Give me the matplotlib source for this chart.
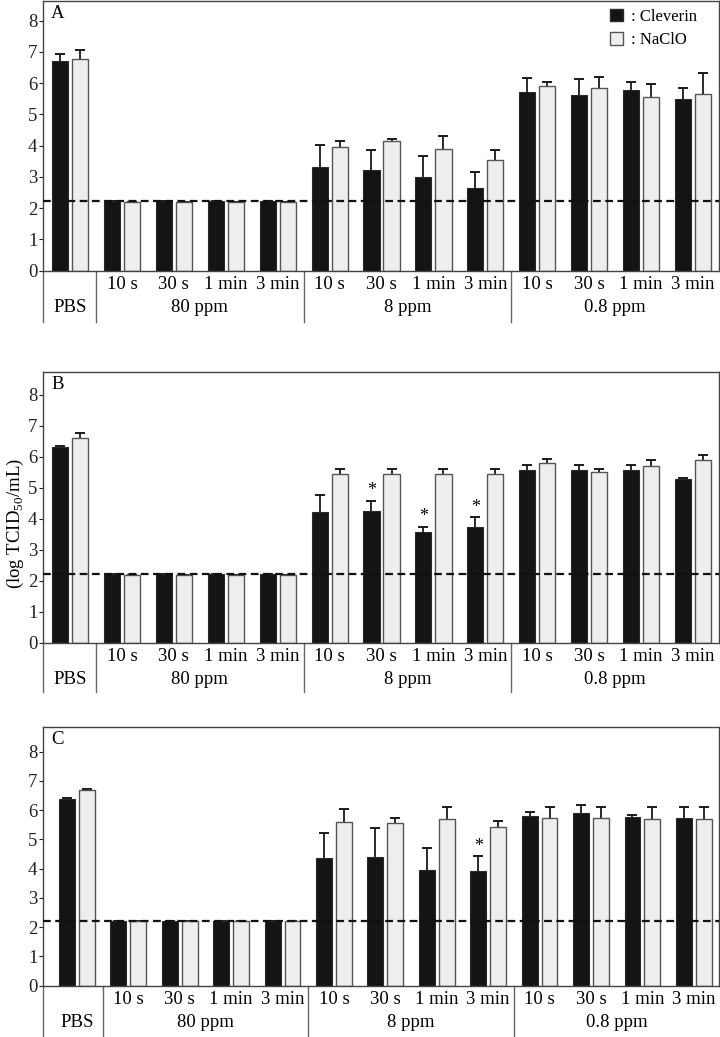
"""重绘三组 Cleverin / NaClO 灭活效果柱状图（A、B、C 三个面板）。"""
from __future__ import annotations

import matplotlib

matplotlib.use("Agg")
import matplotlib.pyplot as plt
import matplotlib.transforms as mtransforms
import numpy as np
from matplotlib.patches import Patch

# ---- 数据 ----
time_labels = ["", "10 s", "30 s", "1 min", "3 min",
               "10 s", "30 s", "1 min", "3 min",
               "10 s", "30 s", "1 min", "3 min"]
group_labels = ["PBS", "80 ppm", "8 ppm", "0.8 ppm"]
group_centers = [0, 2.5, 6.5, 10.5]
group_dividers = [0.5, 4.5, 8.5]
detection_limit = 2.22

a_cleverin = [6.71, 2.22, 2.22, 2.22, 2.22, 3.32, 3.21, 3.01, 2.64, 5.71, 5.63, 5.77, 5.50]
a_cleverin_err = [0.22, 0.0, 0.0, 0.0, 0.0, 0.70, 0.64, 0.66, 0.52, 0.45, 0.51, 0.28, 0.35]
a_naclo = [6.77, 2.20, 2.20, 2.20, 2.20, 3.97, 4.14, 3.90, 3.53, 5.90, 5.84, 5.57, 5.66]
a_naclo_err = [0.30, 0.0, 0.0, 0.0, 0.0, 0.18, 0.08, 0.41, 0.32, 0.13, 0.35, 0.41, 0.67]

b_cleverin = [6.33, 2.22, 2.22, 2.22, 2.22, 4.22, 4.25, 3.59, 3.72, 5.59, 5.59, 5.59, 5.30]
b_cleverin_err = [0.03, 0.0, 0.0, 0.0, 0.0, 0.55, 0.34, 0.16, 0.33, 0.16, 0.16, 0.16, 0.03]
b_naclo = [6.62, 2.20, 2.20, 2.20, 2.20, 5.46, 5.46, 5.46, 5.46, 5.81, 5.52, 5.72, 5.89]
b_naclo_err = [0.14, 0.0, 0.0, 0.0, 0.0, 0.16, 0.16, 0.16, 0.16, 0.13, 0.10, 0.19, 0.18]
b_marked = [6, 7, 8]

c_cleverin = [6.37, 2.22, 2.22, 2.22, 2.22, 4.38, 4.39, 3.97, 3.93, 5.80, 5.90, 5.77, 5.73]
c_cleverin_err = [0.05, 0.0, 0.0, 0.0, 0.0, 0.84, 1.00, 0.73, 0.49, 0.15, 0.29, 0.07, 0.38]
c_naclo = [6.70, 2.20, 2.20, 2.20, 2.20, 5.61, 5.56, 5.71, 5.44, 5.73, 5.73, 5.70, 5.70]
c_naclo_err = [0.01, 0.0, 0.0, 0.0, 0.0, 0.42, 0.18, 0.39, 0.19, 0.37, 0.37, 0.41, 0.41]
c_marked = [8]

# ---- 样式 ----
FIG_W, FIG_H = 720, 1037
BLACK = "#141414"
LIGHT = "#eeeeee"
LINE_GRAY = "#666666"

plt.rcParams["font.family"] = ["Liberation Serif", "DejaVu Serif"]
plt.rcParams["mathtext.fontset"] = "custom"
plt.rcParams["mathtext.rm"] = "Liberation Serif"
plt.rcParams["font.size"] = 13.5


def _upper_errors(ax, xs, values, errors):
    """只画向上的误差线（竖线 + 顶端短横）。"""
    values = np.asarray(values)
    tops = values + np.asarray(errors)
    ax.vlines(xs, values, tops, color="#1a1a1a", linewidth=1.3, zorder=1)
    ax.plot(xs, tops, linestyle="none", marker="_", markersize=6.5,
            markeredgewidth=1.4, color="#1a1a1a", zorder=1)


def _draw_panel(fig, box, panel, cleverin, cleverin_err, naclo, naclo_err, marked, xlim, ylim_top):
    """在给定像素区域内绘制一个面板（柱、误差线、检测限与下方分组表）。"""
    left, top, right, zero, table_bottom = box
    ax = fig.add_axes([left / FIG_W, 1 - zero / FIG_H,
                       (right - left) / FIG_W, (zero - top) / FIG_H])
    height_px = zero - top

    x = np.arange(len(time_labels))
    width = 0.31
    offset = 0.193

    _upper_errors(ax, x - offset, cleverin, cleverin_err)
    _upper_errors(ax, x + offset, naclo, naclo_err)
    ax.bar(x - offset, cleverin, width, color=BLACK, edgecolor="#2a2a2a", linewidth=0.8, zorder=2)
    ax.bar(x + offset, naclo, width, color=LIGHT, edgecolor="#555555", linewidth=1.0, zorder=2)

    ax.axhline(detection_limit, color="#111111", linestyle=(0, (3.5, 2.0)), linewidth=1.6, zorder=3)

    # 显著性星号
    for i in marked:
        ax.text(x[i] - offset, cleverin[i] + cleverin_err[i] + 0.05, "*",
                ha="center", va="bottom", fontsize=13)

    ax.set_xlim(*xlim)
    ax.set_ylim(0, ylim_top)
    ax.set_yticks(range(0, 9))
    ax.set_xticks([])
    ax.tick_params(axis="y", direction="out", length=3, width=0.8, pad=1, colors="#222222")
    for spine in ax.spines.values():
        spine.set_color("#444444")
        spine.set_linewidth(1.0)

    ax.text(0.012, 0.985, panel, transform=ax.transAxes, ha="left", va="top")

    # 下方分组表
    trans = mtransforms.blended_transform_factory(ax.transData, ax.transAxes)
    depth = (table_bottom - zero) / height_px
    ax.plot([0, 0], [0, -depth], transform=ax.transAxes, color=LINE_GRAY, lw=1.0, clip_on=False)
    for xd in group_dividers:
        ax.plot([xd, xd], [0, -depth], transform=trans, color=LINE_GRAY, lw=1.0, clip_on=False)

    time_y = -13.5 / height_px
    group_y = -37.0 / height_px
    for xi, label in zip(x, time_labels):
        ax.text(xi, time_y, label, transform=trans, ha="center", va="center")
    for xc, label in zip(group_centers, group_labels):
        ax.text(xc, group_y, label, transform=trans, ha="center", va="center")
    return ax


def main() -> None:
    """生成三面板图并保存为 out.png。"""
    fig = plt.figure(figsize=(FIG_W / 100, FIG_H / 100), dpi=100)

    ax_a = _draw_panel(fig, (43, 1, 719, 270.7, 322), "A",
                       a_cleverin, a_cleverin_err, a_naclo, a_naclo_err, [],
                       (-0.52, 12.5), 8.63)
    _draw_panel(fig, (43, 372, 719, 642.7, 692), "B",
                b_cleverin, b_cleverin_err, b_naclo, b_naclo_err, b_marked,
                (-0.52, 12.5), 8.74)
    _draw_panel(fig, (43, 727, 719, 985.7, 1040), "C",
                c_cleverin, c_cleverin_err, c_naclo, c_naclo_err, c_marked,
                (-0.66, 12.49), 8.84)

    handles = [Patch(facecolor=BLACK, edgecolor="#2a2a2a"),
               Patch(facecolor=LIGHT, edgecolor="#555555")]
    ax_a.legend(handles, [": Cleverin", ": NaClO"], loc="upper right",
                bbox_to_anchor=(0.985, 1.015), frameon=False, fontsize=12,
                handlelength=0.8, handleheight=0.8, handletextpad=0.5,
                labelspacing=0.45, borderaxespad=0.3)

    fig.text(15 / FIG_W, 1 - 523 / FIG_H, "(log TCID$_{\\mathregular{50}}$/mL)",
             rotation=90, ha="center", va="center")

    fig.savefig("out.png", dpi=100)
    plt.close(fig)


if __name__ == "__main__":
    main()
